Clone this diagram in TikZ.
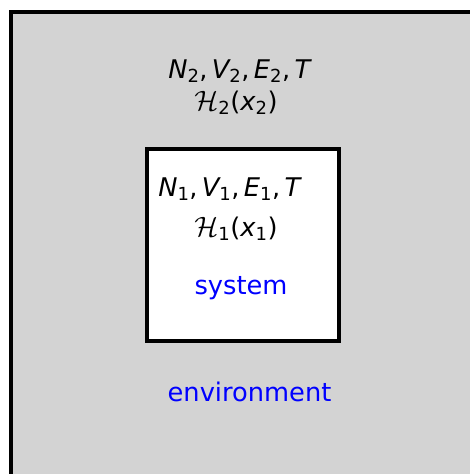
\documentclass[tikz,border=0pt]{standalone}
\usepackage{fix-cm}
\usepackage{amsmath}
\usepackage{fontspec}
\setmainfont{DejaVu Sans}
\usepackage{tikz}
\usetikzlibrary{positioning}
\definecolor{envgray}{HTML}{D3D3D3}
\newcommand{\qv}[2]{\text{\itshape #1}_{\text{#2}}}
\newcommand{\qsep}{\mathpunct{\text{,}}}
\newcommand{\qham}[2]{\text{\fontsize{28}{28}\selectfont$\mathcal{H}$}_{\text{#1}}\text{(}\qv{x}{#2}\text{)}}

\begin{document}
\begin{tikzpicture}[
    x=1pt, y=-1pt,
    boxLine/.style={draw=black, line width=4pt},
    varText/.style={font=\fontsize{25.7}{30}\selectfont, inner sep=0pt, anchor=base},
    tagText/.style={font=\fontsize{25.7}{30}\selectfont, text=blue, inner sep=0pt, anchor=base}
]
    \useasboundingbox (0,0) rectangle (470,474);
    \clip (0,0) rectangle (470,474);

    % Environment box (runs off the page)
    \fill[envgray] (11,12) rectangle (490,494);
    \draw[boxLine] (11,12) rectangle (490,494);

    % System box
    \fill[white] (147,149) rectangle (339,341);
    \draw[boxLine] (147,149) rectangle (339,341);

    % Labels of the environment
    \node[varText] (envvars) at (239.5,78) {$\qv{N}{2}\qsep\qv{V}{2}\qsep\qv{E}{2}\qsep\qv{T}{}$};
    \node[varText] (envham)  at (236,110)  {$\qham{2}{2}$};
    \node[tagText] (envtag)  at (249.5,401) {environment};

    % Labels of the system
    \node[varText] (sysvars) at (229.5,196) {$\qv{N}{1}\qsep\qv{V}{1}\qsep\qv{E}{1}\qsep\qv{T}{}$};
    \node[varText] (sysham)  at (236,236)   {$\qham{1}{1}$};
    \node[tagText] (systag)  at (241,294)   {system};
\end{tikzpicture}
\end{document}
